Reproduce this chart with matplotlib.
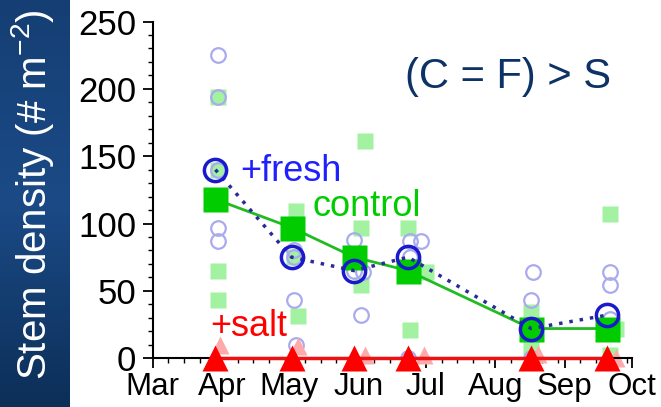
import datetime as dt

import numpy as np
import matplotlib
matplotlib.use("Agg")
import matplotlib.pyplot as plt
import matplotlib.dates as mdates
from matplotlib.colors import LinearSegmentedColormap

plt.rcParams['font.family'] = ['Liberation Sans', 'DejaVu Sans']
plt.rcParams['mathtext.fontset'] = 'custom'
plt.rcParams['mathtext.rm'] = 'Liberation Sans'
plt.rcParams['mathtext.it'] = 'Liberation Sans:italic'


def d(m, day):
    return dt.date(2010, m, day)


# mean stem density per sampling trip
dates = [d(3, 29), d(5, 2), d(5, 30), d(6, 23), d(8, 17), d(9, 20)]
control = [118, 97, 75, 65, 22, 22]
fresh = [140, 75, 65, 75, 22, 32]
salt = [0, 0, 0, 0, 0, 0]

# individual plots (light symbols)
ctrl_rep_dates = [d(3, 30), d(3, 30), d(3, 30), d(3, 30),
                  d(5, 4), d(5, 3), d(5, 5),
                  d(6, 4), d(6, 2), d(6, 2),
                  d(6, 23), d(7, 1), d(6, 24),
                  d(8, 17), d(8, 17),
                  d(9, 21), d(9, 24), d(9, 21)]
ctrl_rep = [194, 140, 65, 43,
            109, 75, 31,
            161, 97, 54,
            97, 64, 21,
            34, 8,
            107, 22, 2]

fresh_rep_dates = [d(3, 30), d(3, 30), d(3, 30), d(3, 30), d(3, 30),
                   d(5, 3), d(5, 3), d(5, 3), d(5, 4),
                   d(5, 30), d(5, 30), d(6, 3), d(6, 2),
                   d(6, 24), d(6, 29), d(6, 24), d(6, 23),
                   d(8, 18), d(8, 17), d(8, 17), d(8, 17),
                   d(9, 21), d(9, 21), d(9, 21)]
fresh_rep = [225, 194, 140, 97, 87,
             80, 75, 43, 10,
             88, 65, 64, 32,
             87, 87, 75, 0,
             64, 43, 22, 0,
             64, 54, 29]

salt_rep_dates = [d(3, 31), d(5, 5), d(6, 4), d(6, 30), d(8, 20), d(9, 24)]
salt_rep = [10, 9, 2, 2, 3, 0]

fig = plt.figure(figsize=(6.61, 4.07), dpi=100)

# dark blue strip behind the y label
bg = fig.add_axes([0, 0, 70 / 661, 1])
cmap = LinearSegmentedColormap.from_list('strip', ['#0c2f58', '#1b4a86', '#153f74'])
bg.imshow(np.linspace(0, 1, 100).reshape(-1, 1), aspect='auto', cmap=cmap, origin='lower')
bg.axis('off')

ax = fig.add_axes([0.231, 0.120, 0.725, 0.827])

ax.plot(ctrl_rep_dates, ctrl_rep, 's', color='#a2f2a2', ms=11, mec='none', zorder=2)
ax.plot(fresh_rep_dates, fresh_rep, 'o', mfc='none', mec='#aaaaee', ms=10.5, mew=1.6, zorder=2)
ax.plot(salt_rep_dates, salt_rep, '^', color='#ffaaaa', ms=13, mec='none', zorder=2, clip_on=False)

ax.plot(dates, control, '-', color='#22bb22', lw=2, zorder=3)
ax.plot(dates, control, 's', color='#00cc00', ms=18, mec='none', zorder=4)
ax.plot(dates, fresh, linestyle=(0, (1, 2)), color='#2a2a99', lw=2.5, zorder=5)
ax.plot(dates, fresh, 'o', mfc='none', mec='#1a1acc', ms=16, mew=2.5, zorder=6)
ax.plot(dates, salt, '-', color='#ee1111', lw=2.5, zorder=6, clip_on=False)
ax.plot(dates, salt, '^', color='#ff0000', ms=19, mec='none', zorder=7, clip_on=False)

ax.set_xlim(d(3, 1), d(10, 1))
ax.set_ylim(0, 250)
ax.xaxis.set_major_locator(mdates.MonthLocator())
ax.xaxis.set_major_formatter(mdates.DateFormatter('%b'))
ax.xaxis.set_minor_locator(mdates.DayLocator(bymonthday=[8, 15, 22, 29]))
ax.set_yticks(range(0, 251, 50))
ax.set_yticks(range(0, 251, 10), minor=True)
ax.tick_params(which='major', length=7, width=1.3)
ax.tick_params(which='minor', length=3.5, width=1)
ax.tick_params(axis='y', pad=5, labelsize=25)
ax.tick_params(axis='x', pad=3, labelsize=22.5)
for s in ['top', 'right']:
    ax.spines[s].set_visible(False)
for s in ['left', 'bottom']:
    ax.spines[s].set_linewidth(1.5)

ax.text(0.182, 0.526, '+fresh', color='#2020ff', fontsize=26, transform=ax.transAxes)
ax.text(0.334, 0.422, 'control', color='#00cc00', fontsize=26, transform=ax.transAxes)
ax.text(0.120, 0.065, '+salt', color='#ff0000', fontsize=26, transform=ax.transAxes)
ax.text(0.526, 0.803, '(C = F) > S', color='#0d3266', fontsize=30, transform=ax.transAxes)

fig.text(33 / 661, 1 - 195 / 407, 'Stem density (# m$^{-2}$)', rotation=90,
         ha='center', va='center', color='white', fontsize=29)

fig.savefig('out.png', dpi=100)
